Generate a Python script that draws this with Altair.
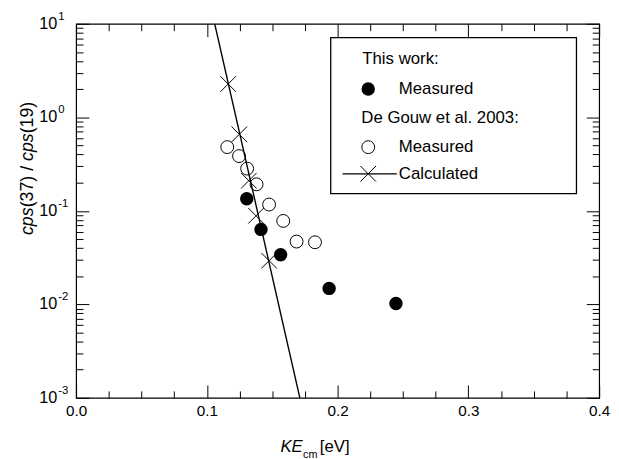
import altair as alt
import pandas as pd

FONT = "Liberation Sans"

# ---- data ----
# This work: measured
tw_x = [0.1305, 0.1414, 0.1564, 0.1935, 0.2446]
tw_y = [0.1345, 0.0633, 0.0339, 0.0148, 0.0102]
# De Gouw et al. 2003: measured
dg_x = [0.1156, 0.1246, 0.1308, 0.1380, 0.1476, 0.1584, 0.1686, 0.1827]
dg_y = [0.48, 0.385, 0.283, 0.192, 0.1167, 0.078, 0.0469, 0.0461]
# De Gouw et al. 2003: calculated points
calc_x = [0.1163, 0.1248, 0.1321, 0.1376, 0.1476]
calc_y = [2.27, 0.658, 0.21, 0.0885, 0.0293]
# calculated curve (end points at the frame)
line_x = [0.106, 0.1711]
line_y = [10.0, 0.001]

# ticks
x_major = [0.0, 0.1, 0.2, 0.3, 0.4]
x_minor = [0.025, 0.05, 0.075, 0.125, 0.15, 0.175, 0.225, 0.25, 0.275,
           0.325, 0.35, 0.375]
y_major = [0.001, 0.01, 0.1, 1.0, 10.0]
y_exp = ["-3", "-2", "-1", "0", "1"]
y_minor = [m * 10.0 ** e for e in (-3, -2, -1, 0) for m in range(2, 10)]

W, H = 530, 379

xs = alt.Scale(domain=[0, 0.4], nice=False, zero=False)
ys = alt.Scale(type="log", domain=[0.001, 10], nice=False)

tw = pd.DataFrame({"x": tw_x, "y": tw_y})
dg = pd.DataFrame({"x": dg_x, "y": dg_y})
calc = pd.DataFrame({"x": calc_x, "y": calc_y})
line = pd.DataFrame({"x": line_x, "y": line_y})
ylabels = pd.DataFrame({"y": y_major, "e": y_exp})
one = pd.DataFrame({"a": [0]})
dummy = pd.DataFrame({"x": [0.2], "y": [1.0]})

XCROSS = "M-1,-1L1,1M-1,1L1,-1"


def enc(ch):
    return ch.encode(
        x=alt.X("x:Q", scale=xs, axis=None),
        y=alt.Y("y:Q", scale=ys, axis=None),
    )


line_l = enc(alt.Chart(line).mark_line(color="black", strokeWidth=1.4))
calc_l = enc(alt.Chart(calc).mark_point(shape=XCROSS, size=250, filled=False,
                                        stroke="black", strokeWidth=1, opacity=1))
dg_l = enc(alt.Chart(dg).mark_point(shape="circle", size=170, filled=False,
                                    stroke="black", strokeWidth=1, opacity=1))
tw_l = enc(alt.Chart(tw).mark_point(shape="circle", size=185, filled=True,
                                    color="black", opacity=1))

# y tick labels: "10" with a raised exponent
ylab_base = alt.Chart(ylabels).mark_text(
    text="10", align="right", baseline="middle", font=FONT, fontSize=16.5,
    color="black").encode(x=alt.value(-19),
                          y=alt.Y("y:Q", scale=ys, axis=None))
ylab_exp = alt.Chart(ylabels).mark_text(
    align="left", baseline="middle", font=FONT, fontSize=11.5, dy=-7,
    color="black").encode(x=alt.value(-18),
                          y=alt.Y("y:Q", scale=ys, axis=None),
                          text="e:N")


def ax(**kw):
    base = dict(grid=False, title=None, tickColor="black", domain=False)
    base.update(kw)
    return alt.Axis(**base)


def axis_layer(xa, ya):
    return alt.Chart(dummy).mark_point(opacity=0).encode(
        x=alt.X("x:Q", scale=xs, axis=xa),
        y=alt.Y("y:Q", scale=ys, axis=ya),
    )


axes = [
    axis_layer(
        ax(orient="bottom", values=x_major, format=".1f", ticks=False,
           labelFont=FONT, labelFontSize=15.5, labelColor="black",
           labelPadding=6, labelFlush=False, labelOverlap=False),
        None,
    ),
    axis_layer(
        ax(orient="top", offset=-H, values=x_major, labels=False, tickSize=13),
        ax(orient="right", offset=-W, values=y_major, labels=False, tickSize=13),
    ),
    axis_layer(
        ax(orient="top", offset=-H, values=x_minor, labels=False, tickSize=7),
        ax(orient="right", offset=-W, values=y_minor, labels=False, tickSize=7),
    ),
    axis_layer(
        ax(orient="bottom", offset=-H, values=x_major, labels=False, tickSize=13),
        ax(orient="left", offset=-W, values=y_major, labels=False, tickSize=13),
    ),
    axis_layer(
        ax(orient="bottom", offset=-H, values=x_minor, labels=False, tickSize=7),
        ax(orient="left", offset=-W, values=y_minor, labels=False, tickSize=7),
    ),
]


def txt(t, x, y, size=17, italic=False, angle=0, baseline="middle", align="left"):
    return alt.Chart(one).mark_text(
        text=t, align=align, baseline=baseline, font=FONT, fontSize=size,
        fontStyle="italic" if italic else "normal", angle=angle, color="black",
    ).encode(x=alt.value(x), y=alt.value(y))


# legend
LS = 17
legend = [
    alt.Chart(one).mark_rect(fill="white", stroke="black", strokeWidth=1.3).encode(
        x=alt.value(258), x2=alt.value(507), y=alt.value(14), y2=alt.value(172)),
    txt("This work:", 290, 36, LS),
    alt.Chart(one).mark_point(shape="circle", size=185, filled=True, color="black",
                              opacity=1).encode(x=alt.value(296), y=alt.value(66)),
    txt("Measured", 327, 66, LS),
    txt("De Gouw et al. 2003:", 289, 96, LS),
    alt.Chart(one).mark_point(shape="circle", size=170, filled=False, stroke="black",
                              strokeWidth=1, opacity=1).encode(
        x=alt.value(296), y=alt.value(125)),
    txt("Measured", 327, 125, LS),
    alt.Chart(one).mark_rule(color="black", strokeWidth=1.2).encode(
        x=alt.value(270), x2=alt.value(325), y=alt.value(152)),
    alt.Chart(one).mark_point(shape=XCROSS, size=250, filled=False, stroke="black",
                              strokeWidth=1, opacity=1).encode(
        x=alt.value(296), y=alt.value(152)),
    txt("Calculated", 327, 152, LS),
]

# axis titles (mixed italic / subscript)
TS = 18
yb = -44   # baseline x of rotated title
y0 = 214   # start of rotated title (bottom end)
ytitle = [
    txt("cps", yb, y0, TS, True, 270, "alphabetic"),
    txt("(37) / ", yb, y0 - 1.556 * TS, TS, False, 270, "alphabetic"),
    txt("cps", yb, y0 - (1.556 + 2.612) * TS, TS, True, 270, "alphabetic"),
    txt("(19)", yb, y0 - (2 * 1.556 + 2.612) * TS, TS, False, 270, "alphabetic"),
]
xt0 = 207
xtitle = [
    txt("KE", xt0, 434, 17, True, 0, "alphabetic"),
    txt("cm", xt0 + 23, 440, 11, False, 0, "alphabetic"),
    txt("[eV]", xt0 + 40, 434, 17, False, 0, "alphabetic"),
]

chart = alt.layer(
    *axes, line_l, calc_l, dg_l, tw_l, ylab_base, ylab_exp,
    *legend, *ytitle, *xtitle
).properties(
    width=W, height=H,
    autosize=alt.AutoSizeParams(type="none"),
    padding={"left": 69, "top": 13, "right": 12, "bottom": 62},
).resolve_axis(x="independent", y="independent").configure_view(
    stroke="black", strokeWidth=1.2
).configure_axis(grid=False)

chart.save("out.html", embed_options={"renderer": "svg", "actions": False})
